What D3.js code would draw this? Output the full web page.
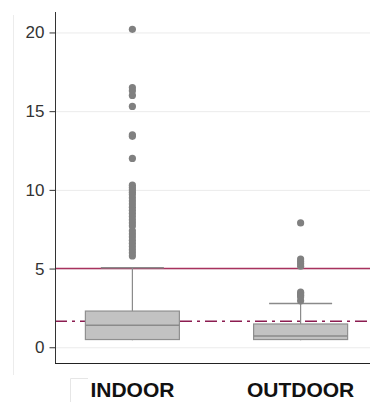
<!DOCTYPE html>
<html lang="en">
<head>
<meta charset="UTF-8">
<script src="https://d3js.org/d3.v7.min.js"></script>
<style>
    body { margin: 0; background: #fff; }
    svg { display: block; font-family: "Liberation Sans", Arial, sans-serif; }
</style>
</head>
<body>
<svg id="chart" width="370" height="402"></svg>
<script>
    // data
    const categories = ["INDOOR", "OUTDOOR"];
    const q1 = [0.49, 0.49];
    const median = [1.4, 0.72];
    const q3 = [2.3, 1.48];
    const whiskerLow = [0.45, 0.45];
    const whiskerHigh = [5.05, 2.78];
    const indoorOutliers = [20.2, 16.5, 16.3, 16.0, 15.3, 13.5, 13.4, 12.0,
        10.3, 10.15, 10.0, 9.85, 9.7, 9.5, 9.3, 9.1, 8.9, 8.7, 8.5, 8.3, 8.1,
        7.9, 7.7, 7.4, 7.2, 7.0, 6.8, 6.6, 6.4, 6.2, 6.0, 5.8];
    const outdoorOutliers = [7.9, 5.6, 5.45, 5.3, 5.15, 3.5, 3.4, 3.3, 3.2, 2.95];
    const outliers = [indoorOutliers, outdoorOutliers];
    const yTicks = [0, 5, 10, 15, 20];
    const solidRef = 5.0;
    const dashRef = 1.65;

    const svg = d3.select("#chart");
    const mLeft = 55, mRight = 370, mTop = 12, mBottom = 363;

    const y = d3.scaleLinear().domain([-1.0, 21.3]).range([mBottom, mTop]);
    const x = d3.scalePoint().domain(categories).range([mLeft, 378]).padding(0.46);

    // faint panel frame bits
    svg.append("line").attr("x1", 13.5).attr("x2", 13.5).attr("y1", 15).attr("y2", 375)
        .attr("stroke", "#ececec");
    svg.append("path").attr("d", "M70.5,402V378.5H88")
        .attr("fill", "none").attr("stroke", "#e6e6e6");

    // gridlines
    svg.append("g").selectAll("line").data(yTicks).enter().append("line")
        .attr("x1", mLeft).attr("x2", mRight)
        .attr("y1", d => y(d) + 0.5).attr("y2", d => y(d) + 0.5)
        .attr("stroke", "#ebebeb");

    // reference lines (under the boxes)
    svg.append("line").attr("x1", mLeft).attr("x2", mRight)
        .attr("y1", y(solidRef)).attr("y2", y(solidRef))
        .attr("stroke", "#a8325e").attr("stroke-width", 1.5);
    svg.append("line").attr("x1", mLeft).attr("x2", mRight)
        .attr("y1", y(dashRef)).attr("y2", y(dashRef))
        .attr("stroke", "#8b1c50").attr("stroke-width", 1.5)
        .attr("stroke-dasharray", "12,5,3,5");

    // y axis
    const yAxis = svg.append("g")
        .attr("transform", "translate(" + (mLeft + 0.5) + ",0)")
        .call(d3.axisLeft(y).tickValues(yTicks).tickSize(6).tickPadding(5).tickSizeOuter(0));
    yAxis.select(".domain").attr("stroke", "#333").attr("d", "M0," + mTop + "V" + mBottom);
    yAxis.selectAll(".tick line").attr("stroke", "#333");
    yAxis.selectAll(".tick text").attr("fill", "#333").style("font-size", "17px");

    // bottom axis line
    svg.append("line").attr("x1", mLeft).attr("x2", mRight)
        .attr("y1", mBottom + 0.5).attr("y2", mBottom + 0.5).attr("stroke", "#222");

    // x labels
    svg.append("g").selectAll("text").data(categories).enter().append("text")
        .attr("x", d => x(d)).attr("y", 397)
        .attr("text-anchor", "middle")
        .style("font-size", "21px").style("font-weight", "bold").attr("fill", "#111")
        .text(d => d);

    const boxW = 94, capW = 63;

    const g = svg.append("g");
    categories.forEach((c, i) => {
        const cx = x(c);
        // whisker line
        g.append("line").attr("x1", cx).attr("x2", cx)
            .attr("y1", y(whiskerHigh[i])).attr("y2", y(whiskerLow[i]))
            .attr("stroke", "#8a8a8a").attr("stroke-width", 1.2);
        g.append("line").attr("x1", cx - capW / 2).attr("x2", cx + capW / 2)
            .attr("y1", y(whiskerHigh[i])).attr("y2", y(whiskerHigh[i]))
            .attr("stroke", "#8a8a8a").attr("stroke-width", 1.5);
        // box
        g.append("rect").attr("x", cx - boxW / 2).attr("width", boxW)
            .attr("y", y(q3[i])).attr("height", y(q1[i]) - y(q3[i]))
            .attr("fill", "#c2c2c2").attr("stroke", "#8f8f8f").attr("stroke-width", 1.2);
        g.append("line").attr("x1", cx - boxW / 2).attr("x2", cx + boxW / 2)
            .attr("y1", y(median[i])).attr("y2", y(median[i]))
            .attr("stroke", "#8a8a8a").attr("stroke-width", 1.5);
        // outliers
        g.selectAll(null).data(outliers[i]).enter().append("circle")
            .attr("cx", cx).attr("cy", d => y(d)).attr("r", 3.6)
            .attr("fill", "#808080");
    });
</script>
</body>
</html>
